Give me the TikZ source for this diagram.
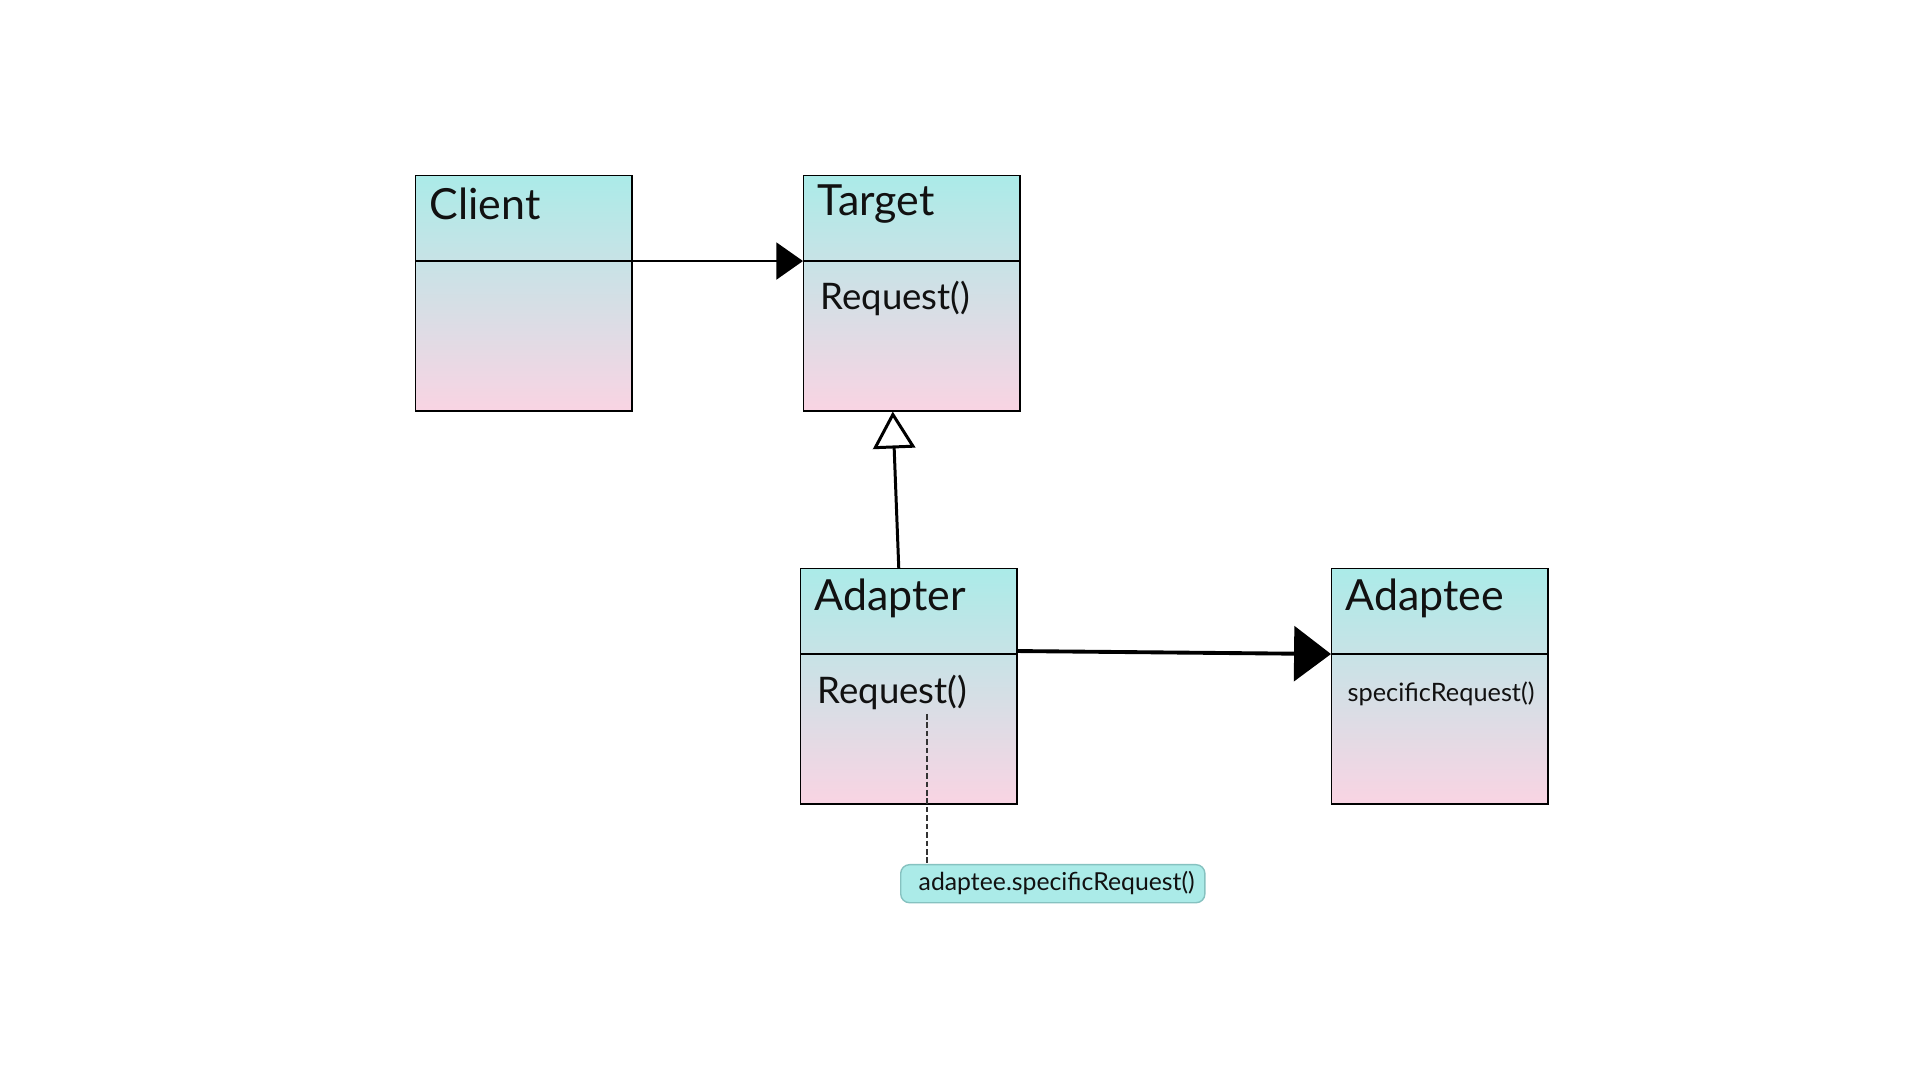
\documentclass[tikz,border=0pt]{standalone}
\usepackage{fontspec}
\setmainfont{Lato}
\usetikzlibrary{arrows.meta}
\definecolor{boxtop}{HTML}{ABEBE8}
\definecolor{boxbot}{HTML}{F9D4E3}
\definecolor{notefill}{HTML}{ABEBE8}
\definecolor{noteline}{HTML}{86C2C0}
\definecolor{ink}{HTML}{111111}
\begin{document}
\begin{tikzpicture}[x=0.01cm,y=-0.01cm,
  classbox/.style={draw=black, line width=0.4pt, top color=boxtop, bottom color=boxbot,
    minimum width=2.16cm, minimum height=2.35cm, inner sep=0pt, anchor=north west},
  classname/.style={anchor=west, inner sep=0pt, font=\fontsize{12.2}{14}\selectfont, text=ink},
  opname/.style={anchor=west, inner sep=0pt, font=\fontsize{10.4}{12}\selectfont, text=ink},
  smallop/.style={anchor=west, inner sep=0pt, font=\fontsize{7.2}{9}\selectfont, text=ink},
  notetext/.style={anchor=west, inner sep=0pt, font=\fontsize{7.05}{9}\selectfont, text=ink},
  divider/.style={line width=0.4pt, black},
  assoc/.style={line width=0.75pt, -{Triangle[length=7.6pt, width=10.5pt]}},
  assocbig/.style={line width=1.1pt, -{Triangle[length=10.5pt, width=15.6pt]}},
  inherit/.style={line width=0.85pt, -{Triangle[open, length=10.5pt, width=12pt, line width=0.85pt]}},
  notebox/.style={draw=noteline, fill=notefill, rounded corners=2.5pt, line width=0.4pt,
    minimum width=3.04cm, minimum height=0.38cm, inner sep=0pt, anchor=north west},
  notelink/.style={line width=0.7pt, draw=black!80, dash pattern=on 1.6pt off 0.8pt}
]
\useasboundingbox (0,0) rectangle (1920,1080);

% class boxes
\node[classbox] (client)  at (415,175) {};
\node[classbox] (target)  at (803,175) {};
\node[classbox] (adapter) at (800,568) {};
\node[classbox] (adaptee) at (1331,568) {};

% compartment dividers
\foreach \b in {client,target,adapter,adaptee}
  \draw[divider] ([yshift=-0.86cm]\b.north west) -- ([yshift=-0.86cm,xshift=-0.02cm]\b.north east);

% class names
\node[classname] (clientname)  at (429,204) {Client};
\node[classname] (targetname)  at (817,204) {Target};
\node[classname] (adaptername) at (814,598) {Adapter};
\node[classname] (adapteename) at (1345,598) {Adaptee};

% operations
\node[opname]  (targetreq)  at (820,298) {Request()};
\node[opname]  (adapterreq) at (817,692) {Request()};
\node[smallop] (adapteeop)  at (1347,694) {specificRequest()};

% note
\node[notebox] (note) at (900,864) {};
\node[notetext] (notelabel) at (918,883) {adaptee.specificRequest()};

% connectors
\draw[assoc] ([yshift=-0.86cm]client.north east) -- ([yshift=-0.86cm]target.north west);
\draw[assocbig] ([yshift=-0.83cm]adapter.north east) -- ([yshift=-0.86cm]adaptee.north west);
\draw[inherit] ([xshift=-0.1cm]adapter.north) -- ([xshift=-0.19cm]target.south);
\coordinate (reqpoint) at (927,714);
\draw[notelink] (reqpoint) -- (reqpoint |- note.north);
\end{tikzpicture}
\end{document}
